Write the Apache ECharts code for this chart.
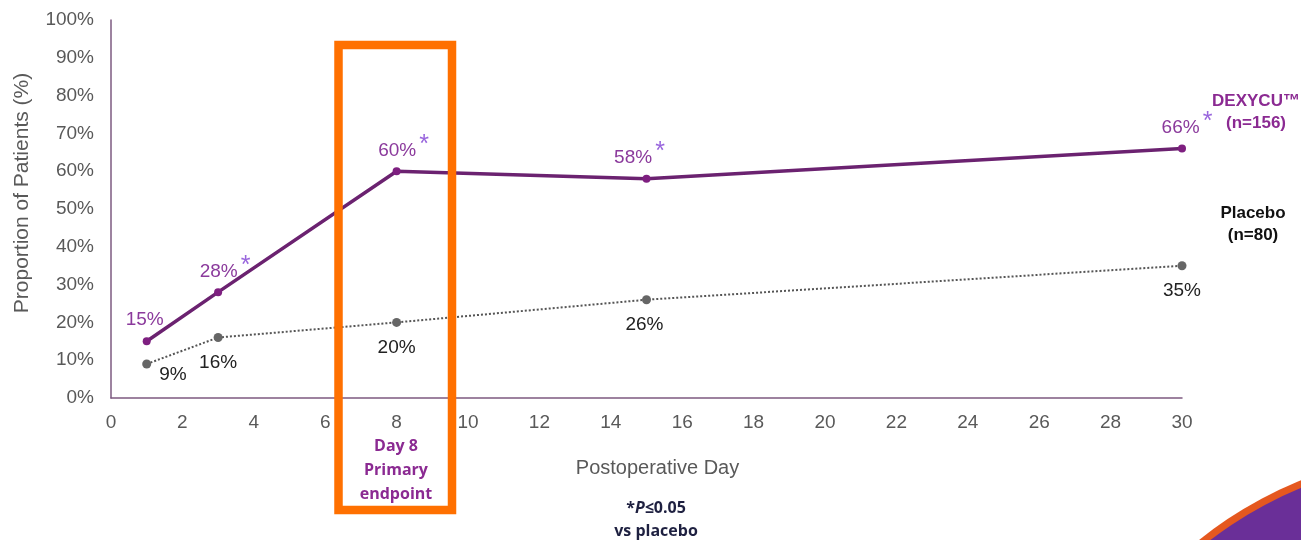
<!DOCTYPE html>
<html lang="en">
<head>
  <meta charset="UTF-8">
  <script type="text/javascript" src="https://cdn.jsdelivr.net/npm/echarts@6/dist/echarts.min.js"></script>
  <title>Proportion of Patients</title>
  <style type="text/css">
    * { margin: 0; padding: 0; }
    html, body { width: 100%; height: 100%; background-color: #fff; }
    #chart { width: 1301px; height: 540px; }
  </style>
</head>
<body>
<div id="chart"></div>
<script type="text/javascript">
  // data
  var days = [1, 3, 8, 15, 30]
  var dexycu = [15, 28, 60, 58, 66]
  var placebo = [9, 16, 20, 26, 35]
  var significant = [false, true, true, true, true]

  var purple = '#6b2270'
  var labelPurple = '#8b3a9c'

  // label nudges, per point
  var dexOffsets = [[-2, -3], [7, 7], [7, 7], [-7, 7], [5, 7]]
  var plaOffsets = [[3, 11], [0, 6], [0, 6], [-2, 6], [0, 6]]

  var dexData = days.map(function (d, i) {
    return {
      value: [d, dexycu[i]],
      label: {
        offset: dexOffsets[i],
        formatter: significant[i] ? '{v|' + dexycu[i] + '%}{s|*}' : '{v|' + dexycu[i] + '%}'
      }
    }
  })
  var plaData = days.map(function (d, i) {
    return {
      value: [d, placebo[i]],
      label: {
        position: i === 0 ? 'right' : 'bottom',
        offset: plaOffsets[i]
      }
    }
  })

  var myChart = echarts.init(document.getElementById('chart'))
  var option = {
    backgroundColor: '#fff',
    animation: false,
    textStyle: { fontFamily: 'Liberation Sans, Arial, sans-serif' },
    grid: { left: 111, right: 119, top: 20, bottom: 142 },
    xAxis: {
      type: 'value',
      min: 0,
      max: 30,
      interval: 2,
      name: 'Postoperative Day',
      nameLocation: 'middle',
      nameGap: 60,
      nameTextStyle: { color: '#595959', fontSize: 20, padding: [0, 0, 0, 22] },
      axisLine: { lineStyle: { color: '#7d5a80', width: 1.5 } },
      axisTick: { show: false },
      splitLine: { show: false },
      axisLabel: { color: '#595959', fontSize: 19, margin: 15 }
    },
    yAxis: {
      type: 'value',
      min: 0,
      max: 100,
      interval: 10,
      name: 'Proportion of Patients (%)',
      nameLocation: 'middle',
      nameGap: 78,
      nameTextStyle: { color: '#595959', fontSize: 21, padding: [0, 0, 0, 32] },
      axisLine: { show: true, lineStyle: { color: '#7d5a80', width: 1.5 } },
      axisTick: { show: false },
      splitLine: { show: false },
      axisLabel: { color: '#595959', fontSize: 19, margin: 17, formatter: '{value}%' }
    },
    series: [
      {
        name: 'DEXYCU',
        type: 'line',
        data: dexData,
        symbol: 'circle',
        symbolSize: 8,
        z: 3,
        lineStyle: { color: purple, width: 3.5 },
        itemStyle: { color: '#7e1f80' },
        label: {
          show: true,
          position: 'top',
          rich: {
            v: { color: labelPurple, fontSize: 19 },
            s: { color: '#9966dd', fontSize: 25, padding: [0, 0, 12, 3] }
          }
        }
      },
      {
        name: 'Placebo',
        type: 'line',
        data: plaData,
        symbol: 'circle',
        symbolSize: 9,
        z: 2,
        lineStyle: { color: '#555', width: 2, type: 'dotted' },
        itemStyle: { color: '#666' },
        label: { show: true, color: '#222', fontSize: 19, formatter: function (p) { return p.value[1] + '%' } }
      }
    ],
    graphic: [
      // bottom-right decoration
      { type: 'circle', z: 1, shape: { cx: 1452, cy: 855, r: 404 }, style: { fill: '#e5581f' } },
      { type: 'circle', z: 1, shape: { cx: 1452, cy: 855, r: 397 }, style: { fill: '#6a2f98' } },
      // primary endpoint box
      {
        type: 'rect', z: 100,
        shape: { x: 338.5, y: 45, width: 113.5, height: 465 },
        style: { fill: 'none', stroke: '#ff7000', lineWidth: 8.5 }
      },
      {
        type: 'text', z: 100,
        style: {
          x: 396, y: 434, text: 'Day 8\nPrimary\nendpoint', align: 'center', verticalAlign: 'top',
          fill: '#8b2a92', font: 'bold 16px "Open Sans", sans-serif', lineHeight: 24
        }
      },
      {
        type: 'text', z: 100,
        style: {
          x: 656, y: 497, text: '{b|*}{i|P}{b|≤0.05}\n{b|vs placebo}', align: 'center', verticalAlign: 'top',
          rich: {
            b: { fill: '#1e2040', font: 'bold 16px "Open Sans", sans-serif', lineHeight: 23 },
            i: { fill: '#1e2040', font: 'italic bold 16px "Open Sans", sans-serif', lineHeight: 23 }
          }
        }
      },
      // series labels on the right
      {
        type: 'text', z: 100,
        style: {
          x: 1256, y: 90, text: 'DEXYCU™\n(n=156)', align: 'center', verticalAlign: 'top',
          fill: '#8b2a92', font: 'bold 17px "Liberation Sans", Arial, sans-serif', lineHeight: 22
        }
      },
      {
        type: 'text', z: 100,
        style: {
          x: 1253, y: 202, text: 'Placebo\n(n=80)', align: 'center', verticalAlign: 'top',
          fill: '#111', font: 'bold 17px "Liberation Sans", Arial, sans-serif', lineHeight: 22
        }
      }
    ]
  }
  myChart.setOption(option)
</script>
</body>
</html>
